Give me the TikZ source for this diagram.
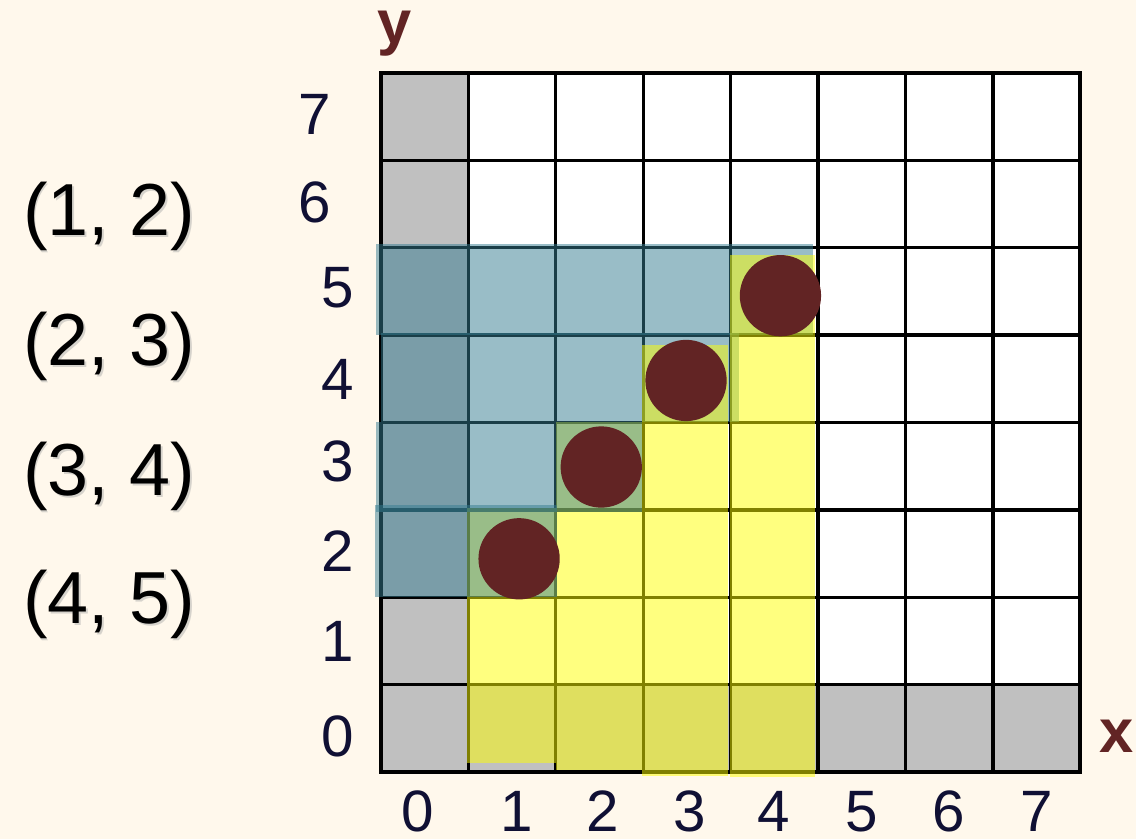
\documentclass[tikz,border=0pt]{standalone}
\usepackage{fontspec}
\setmainfont{Liberation Sans}
\usetikzlibrary{calc}
\usetikzlibrary{positioning}

\definecolor{paper}{RGB}{255,248,236}
\definecolor{cellgray}{RGB}{192,192,192}
\definecolor{rowblue}{RGB}{53,124,145}
\definecolor{colyellow}{RGB}{255,255,0}
\definecolor{pegred}{RGB}{98,36,36}
\definecolor{ticknavy}{RGB}{16,16,52}

\tikzset{
  rowband/.style={fill=rowblue, fill opacity=0.5},
  colband/.style={fill=colyellow, fill opacity=0.5},
  peg/.style={circle, fill=pegred, minimum size=0.93cm, inner sep=0pt},
  ticklabel/.style={anchor=base, inner sep=0pt, text=ticknavy, font=\fontsize{19}{19}\selectfont},
  axisname/.style={anchor=base, inner sep=0pt, text=pegred, font=\fontsize{20}{20}\selectfont\bfseries},
  pairlabel/.style={anchor=base west, inner sep=0pt, font=\fontsize{24}{24}\selectfont},
  pairshadow/.style={pairlabel, text=black!35, text opacity=0.45},
}

\begin{document}
\begin{tikzpicture}
            \useasboundingbox[fill=paper] (-4.359,-0.767) rectangle (8.638,8.833);

            % board
            \fill[white] (0,0) rectangle (8,8);
            \fill[cellgray] (0,0) rectangle (1,8);
            \fill[cellgray] (0,0) rectangle (8,1);
            \draw[line width=1.1pt] (0,0) grid (8,8);
            \draw[line width=1.3pt] (0,0) rectangle (8,8);

            % bands
            \fill[colband] (0.98,0.10) rectangle (2.00,3.02);
            \fill[colband] (2.00,0.02) rectangle (2.99,4.00);
            \fill[rowband] (-0.07,2.00) rectangle (2.01,3.05);
            \fill[rowband] (-0.06,2.97) rectangle (2.99,4.00);
            \fill[rowband] (0.00,4.00) rectangle (4.10,5.02);
            \fill[rowband] (-0.06,5.00) rectangle (4.94,6.04);
            \fill[colband] (2.99,-0.04) rectangle (3.97,4.89);
            \fill[colband] (3.99,-0.06) rectangle (4.97,5.92);

            % pegs
            \node[peg] (p12) at (1.58,2.44) {};
            \node[peg] (p23) at (2.52,3.49) {};
            \node[peg] (p34) at (3.49,4.48) {};
            \node[peg] (p45) at (4.57,5.45) {};

            % axes
            \node[axisname] (ylab) at (0.15,8.33) {y};
            \node[axisname] (xlab) at (8.42,0.22) {x};

            \node[ticklabel] (x0) at (0.42,-0.68) {0};
            \node[ticklabel] (x1) at (1.55,-0.68) {1};
            \node[ticklabel] (x2) at (2.54,-0.68) {2};
            \node[ticklabel] (x3) at (3.53,-0.68) {3};
            \node[ticklabel] (x4) at (4.49,-0.68) {4};
            \node[ticklabel] (x5) at (5.50,-0.68) {5};
            \node[ticklabel] (x6) at (6.49,-0.68) {6};
            \node[ticklabel] (x7) at (7.50,-0.68) {7};

            \node[ticklabel] (y0) at (-0.50,0.18) {0};
            \node[ticklabel] (y1) at (-0.50,1.27) {1};
            \node[ticklabel] (y2) at (-0.50,2.30) {2};
            \node[ticklabel] (y3) at (-0.50,3.32) {3};
            \node[ticklabel] (y4) at (-0.50,4.26) {4};
            \node[ticklabel] (y5) at (-0.50,5.31) {5};
            \node[ticklabel] (y6) at (-0.755,6.29) {6};
            \node[ticklabel] (y7) at (-0.755,7.29) {7};

            % pairs
            \node[pairshadow] (s12) at (-4.08,6.12) {(1, 2)};
            \node[pairshadow] (s23) at (-4.08,4.63) {(2, 3)};
            \node[pairshadow] (s34) at (-4.08,3.14) {(3, 4)};
            \node[pairshadow] (s45) at (-4.08,1.68) {(4, 5)};
            \node[pairlabel] (q12) at (-4.10,6.14) {(1, 2)};
            \node[pairlabel] (q23) at (-4.10,4.65) {(2, 3)};
            \node[pairlabel] (q34) at (-4.10,3.16) {(3, 4)};
            \node[pairlabel] (q45) at (-4.10,1.70) {(4, 5)};
        \end{tikzpicture}
\end{document}
